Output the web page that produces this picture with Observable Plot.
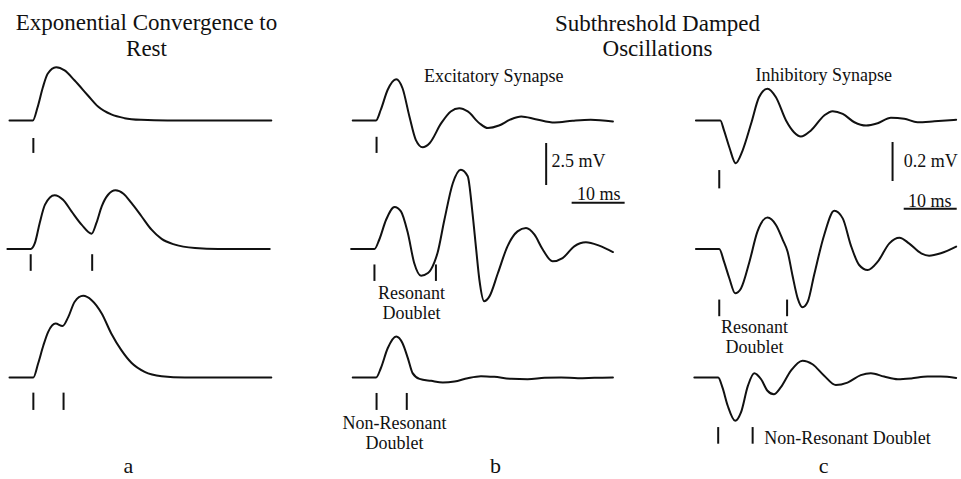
<!DOCTYPE html>
<html>
<head>
<meta charset="utf-8">
<script src="https://cdn.jsdelivr.net/npm/d3@7"></script>
<script src="https://cdn.jsdelivr.net/npm/@observablehq/plot@0.6"></script>
<style>
  html, body { margin: 0; padding: 0; background: #fff; }
</style>
</head>
<body>
<div id="chart"></div>
<script>
// ---------------- DATA (time in ms from trace start, voltage in mV) ----------------
const columns = ["a", "b", "c"];
const rows = [1, 2, 3];

// Column a: exponential convergence to rest (same units as column b)
const a1_t = [0, 4.4, 5.3, 6.3, 7.2, 8.8, 10.4, 12.3, 14.8, 16.7, 19.2, 21.7, 24.8, 29.8, 49.4];
const a1_v = [0, 0, 0.79, 1.98, 2.78, 3.17, 2.98, 2.38, 1.49, 0.83, 0.36, 0.14, 0.04, 0, 0];
const a1_stim = [4.5];

const a2_t = [-0.4, 4.0, 4.8, 5.7, 6.7, 8.5, 10.1, 11.7, 13.6, 15.5, 16.4, 17.4, 18.6, 20.0, 21.5, 23.0, 24.9, 26.8, 28.7, 31.2, 35.0, 39.4, 49.1];
const a2_v = [0, 0, 0.36, 1.55, 2.64, 3.2, 2.93, 2.24, 1.45, 0.91, 1.55, 2.54, 3.23, 3.49, 3.29, 2.74, 1.95, 1.15, 0.6, 0.26, 0.06, 0, 0];
const a2_stim = [4.0, 15.6];

const a3_t = [0, 4.5, 5.4, 6.4, 7.3, 8.7, 10.0, 11.1, 12.3, 13.9, 15.5, 17.4, 19.2, 21.1, 23.0, 25.5, 28.7, 33.1, 49.4];
const a3_v = [0, 0, 0.83, 1.92, 2.72, 3.21, 3.06, 3.61, 4.51, 4.86, 4.6, 3.81, 2.62, 1.63, 0.88, 0.34, 0.08, 0, 0];
const a3_stim = [4.5, 10.2];

// Column b: excitatory synapse (mV)
const b1_t = [0, 4.4, 5.3, 6.6, 8.2, 9.4, 10.7, 11.9, 13.2, 14.5, 16.7, 18.5, 20.1, 21.7, 23.9, 25.5, 27.6, 29.7, 31.8, 34.5, 38.1, 41.5, 44.9, 49.1];
const b1_v = [0, 0, 0.64, 1.83, 2.46, 1.92, 0.24, -1.15, -1.59, -1.35, -0.16, 0.54, 0.73, 0.54, -0.16, -0.45, -0.3, 0.05, 0.24, 0.08, -0.12, -0.02, 0.04, -0.06];
const b1_stim = [4.5];

const b2_t = [-0.3, 4.1, 5.0, 6.3, 7.9, 9.1, 10.4, 11.6, 12.9, 14.2, 15.4, 16.0, 17.3, 18.9, 20.4, 21.7, 22.6, 23.3, 23.9, 24.8, 25.8, 27.4, 29.2, 31.1, 32.7, 34.3, 35.8, 37.7, 39.6, 41.8, 44.0, 46.5, 49.1];
const b2_v = [0, 0, 0.55, 1.74, 2.5, 2.24, 0.95, -0.83, -1.59, -1.43, -0.79, -0.24, 1.74, 3.93, 4.72, 4.33, 2.14, -0.04, -1.83, -3.11, -2.82, -1.43, 0.16, 1.05, 1.25, 0.85, 0.0, -0.73, -0.54, 0.16, 0.4, 0.2, -0.18];
const b2_stim = [4.1, 15.7];

const b3_t = [0, 4.4, 5.3, 6.6, 8.2, 9.4, 10.4, 11.3, 12.6, 14.8, 17.0, 19.2, 21.7, 24.2, 26.7, 29.9, 33.0, 36.2, 39.3, 42.5, 45.6, 49.1];
const b3_v = [0, 0, 0.55, 1.74, 2.44, 2.04, 1.15, 0.26, -0.08, -0.2, -0.3, -0.24, -0.04, 0.08, 0.04, -0.08, -0.1, -0.02, 0, -0.04, -0.02, 0];
const b3_stim = [4.5, 10.2];

// Column c: inhibitory synapse (mV)
const c1_t = [0, 4.6, 5.3, 6.3, 7.5, 8.8, 10.4, 11.9, 13.5, 15.1, 17.0, 18.5, 19.8, 21.7, 24.2, 25.8, 27.7, 29.9, 32.1, 34.3, 36.8, 39.3, 41.8, 45.0, 49.1];
const c1_v = [0, 0, -0.051, -0.137, -0.219, -0.154, -0.017, 0.119, 0.163, 0.119, 0, -0.06, -0.082, -0.051, 0.026, 0.048, 0.034, -0.009, -0.026, -0.014, 0.014, 0.009, -0.009, -0.004, 0.004];
const c1_stim = [4.4];

const c2_t = [0, 4.4, 5.3, 6.3, 7.4, 8.5, 10.1, 11.6, 13.5, 15.1, 16.4, 17.3, 18.2, 19.2, 20.1, 21.1, 22.3, 24.2, 26.1, 27.7, 29.2, 30.8, 32.4, 34.3, 36.5, 38.4, 40.2, 42.5, 44.0, 46.2, 49.1];
const c2_v = [0, 0, -0.065, -0.15, -0.227, -0.202, -0.065, 0.089, 0.161, 0.123, 0.046, -0.014, -0.133, -0.253, -0.299, -0.27, -0.133, 0.072, 0.196, 0.157, 0.021, -0.082, -0.108, -0.065, 0.029, 0.058, 0.029, -0.022, -0.034, -0.022, 0.012];
const c2_stim = [4.4, 17.2];

const c3_t = [-0.3, 4.2, 5.0, 6.0, 7.4, 8.5, 9.8, 11.0, 12.3, 13.5, 14.7, 16.0, 17.9, 20.1, 22.0, 24.2, 26.4, 28.6, 31.1, 33.0, 35.5, 38.1, 40.6, 43.7, 46.2, 49.1];
const c3_v = [0, 0, -0.051, -0.145, -0.222, -0.179, -0.043, 0.022, -0.009, -0.068, -0.086, -0.051, 0.034, 0.086, 0.068, 0.009, -0.039, -0.026, 0.012, 0.022, 0.005, -0.009, -0.005, 0.005, 0.005, -0.002];
const c3_stim = [4.2, 10.7];

// Scale bars and texts
const scaleBarMV = {b: 2.5, c: 0.2};
const scaleBarMS = 10;
const scaleBarLabels = {b: "2.5 mV", c: "0.2 mV"};
const timeBarLabel = "10 ms";
const panelTitles = ["Exponential Convergence to\nRest", "Subthreshold Damped\nOscillations"];
const synapseLabels = ["Excitatory Synapse", "Inhibitory Synapse"];
const doubletLabels = ["Resonant\nDoublet", "Non-Resonant\nDoublet", "Non-Resonant Doublet"];
const panelLetters = ["a", "b", "c"];

// ---------------- LAYOUT ----------------
const W = 961, H = 479;
const PX_PER_MS = 5.3;      // horizontal pixels per ms
const PX_PER_UNIT = 16.8;   // vertical pixels per display unit (= 1 mV in columns a, b)
const gain = {a: 1, b: 1, c: 195 / PX_PER_UNIT}; // column c is drawn with a larger gain
const marginTop = 39, marginBottom = 54.5;
const rowH = (H - marginTop - marginBottom) / 3;
const baseFromTop = 81;
const pad = 0.2;
const bandW = W / (3 - pad) * (1 - pad);
const x0 = 9;

// tick vertical spans in display units relative to baseline
const tickSpan = {
  a1: [-1.07, -1.96], a2: [-0.34, -1.33], a3: [-0.93, -1.96],
  b1: [-1.0, -1.96], b2: [-0.95, -1.93], b3: [-0.95, -1.96],
  c1: [-2.98, -4.07], c2: [-3.04, -4.03], c3: [-2.98, -3.97]
};

const traces = [
  {col: "a", row: 1, t: a1_t, v: a1_v, stim: a1_stim},
  {col: "a", row: 2, t: a2_t, v: a2_v, stim: a2_stim},
  {col: "a", row: 3, t: a3_t, v: a3_v, stim: a3_stim},
  {col: "b", row: 1, t: b1_t, v: b1_v, stim: b1_stim},
  {col: "b", row: 2, t: b2_t, v: b2_v, stim: b2_stim},
  {col: "b", row: 3, t: b3_t, v: b3_v, stim: b3_stim},
  {col: "c", row: 1, t: c1_t, v: c1_v, stim: c1_stim},
  {col: "c", row: 2, t: c2_t, v: c2_v, stim: c2_stim},
  {col: "c", row: 3, t: c3_t, v: c3_v, stim: c3_stim}
];

const pts = traces.flatMap(tr => tr.t.map((t, i) => ({
  col: tr.col, row: tr.row, id: tr.col + tr.row, t, y: tr.v[i] * gain[tr.col]
})));

const stims = traces.flatMap(tr => tr.stim.map(t => ({
  col: tr.col, row: tr.row, t,
  y1: tickSpan[tr.col + tr.row][0], y2: tickSpan[tr.col + tr.row][1]
})));

// vertical scale bars (mV) and horizontal time bars
const vBarTop = {b: -1.37, c: -1.31};
const vBarT = {b: 36.5, c: 37.1};
const vBars = ["b", "c"].map(col => ({
  col, row: 1, t: vBarT[col], y1: vBarTop[col], y2: vBarTop[col] - scaleBarMV[col] * gain[col]
}));
const hBarStart = {b: 41.4, c: 39.3};
const hBarY = {b: -4.9, c: -5.26};
const hBars = ["b", "c"].map(col => ({
  col, row: 1, x1: hBarStart[col], x2: hBarStart[col] + scaleBarMS, y: hBarY[col]
}));

const big = 23, small = 18, letter = 22;
const notes = [
  {col: "a", row: 1, t: 25.85, y: 5.09, text: panelTitles[0], size: big, anchor: "middle", lh: 1.09},
  {col: "b", row: 1, t: 57.5, y: 5.07, text: panelTitles[1], size: big, anchor: "middle", lh: 1.09},
  {col: "b", row: 1, t: 26.6, y: 2.68, text: synapseLabels[0], size: small, anchor: "middle", lh: 1.1},
  {col: "c", row: 1, t: 24.1, y: 2.74, text: synapseLabels[1], size: small, anchor: "middle", lh: 1.1},
  {col: "b", row: 1, t: 37.5, y: -2.38, text: scaleBarLabels.b, size: small, anchor: "start", lh: 1.1},
  {col: "c", row: 1, t: 39.2, y: -2.38, text: scaleBarLabels.c, size: small, anchor: "start", lh: 1.1},
  {col: "b", row: 1, t: 46.4, y: -4.35, text: timeBarLabel, size: small, anchor: "middle", lh: 1.1},
  {col: "c", row: 1, t: 44.1, y: -4.76, text: timeBarLabel, size: small, anchor: "middle", lh: 1.1},
  {col: "b", row: 2, t: 11.1, y: -3.18, text: doubletLabels[0], size: small, anchor: "middle", lh: 1.11},
  {col: "b", row: 3, t: 7.9, y: -3.27, text: doubletLabels[1], size: small, anchor: "middle", lh: 1.11},
  {col: "c", row: 2, t: 11.06, y: -5.24, text: doubletLabels[0], size: small, anchor: "middle", lh: 1.11},
  {col: "c", row: 3, t: 12.9, y: -3.57, text: doubletLabels[2], size: small, anchor: "start", lh: 1.1},
  {col: "a", row: 3, t: 22.45, y: -5.25, text: panelLetters[0], size: letter, anchor: "middle", lh: 1.1},
  {col: "b", row: 3, t: 26.96, y: -5.25, text: panelLetters[1], size: letter, anchor: "middle", lh: 1.1},
  {col: "c", row: 3, t: 24.1, y: -5.25, text: panelLetters[2], size: letter, anchor: "middle", lh: 1.1}
];

const ink = "#111";
const textMarks = notes.map(n => Plot.text([n], {
  x: "t", y: "y", fx: "col", fy: "row", text: "text",
  fontSize: n.size, textAnchor: n.anchor, lineHeight: n.lh, fill: ink
}));

const chart = Plot.plot({
  width: W,
  height: H,
  marginTop, marginBottom, marginLeft: 0, marginRight: 0,
  style: {fontFamily: "'Liberation Serif', 'Times New Roman', serif", background: "#fff", overflow: "visible"},
  fx: {domain: columns, axis: null, paddingInner: pad, paddingOuter: 0, round: false},
  fy: {domain: rows, axis: null, paddingInner: 0, paddingOuter: 0, round: false},
  x: {domain: [-x0 / PX_PER_MS, (bandW - x0) / PX_PER_MS], axis: null},
  y: {domain: [-(rowH - baseFromTop) / PX_PER_UNIT, baseFromTop / PX_PER_UNIT], axis: null},
  marks: [
    Plot.line(pts, {x: "t", y: "y", z: "id", fx: "col", fy: "row", stroke: ink, strokeWidth: 2, curve: "monotone-x"}),
    Plot.ruleX(stims, {x: "t", y1: "y1", y2: "y2", fx: "col", fy: "row", stroke: ink, strokeWidth: 2}),
    Plot.ruleX(vBars, {x: "t", y1: "y1", y2: "y2", fx: "col", fy: "row", stroke: ink, strokeWidth: 2}),
    Plot.ruleY(hBars, {y: "y", x1: "x1", x2: "x2", fx: "col", fy: "row", stroke: ink, strokeWidth: 2}),
    ...textMarks
  ]
});
document.getElementById("chart").append(chart);
</script>
</body>
</html>
